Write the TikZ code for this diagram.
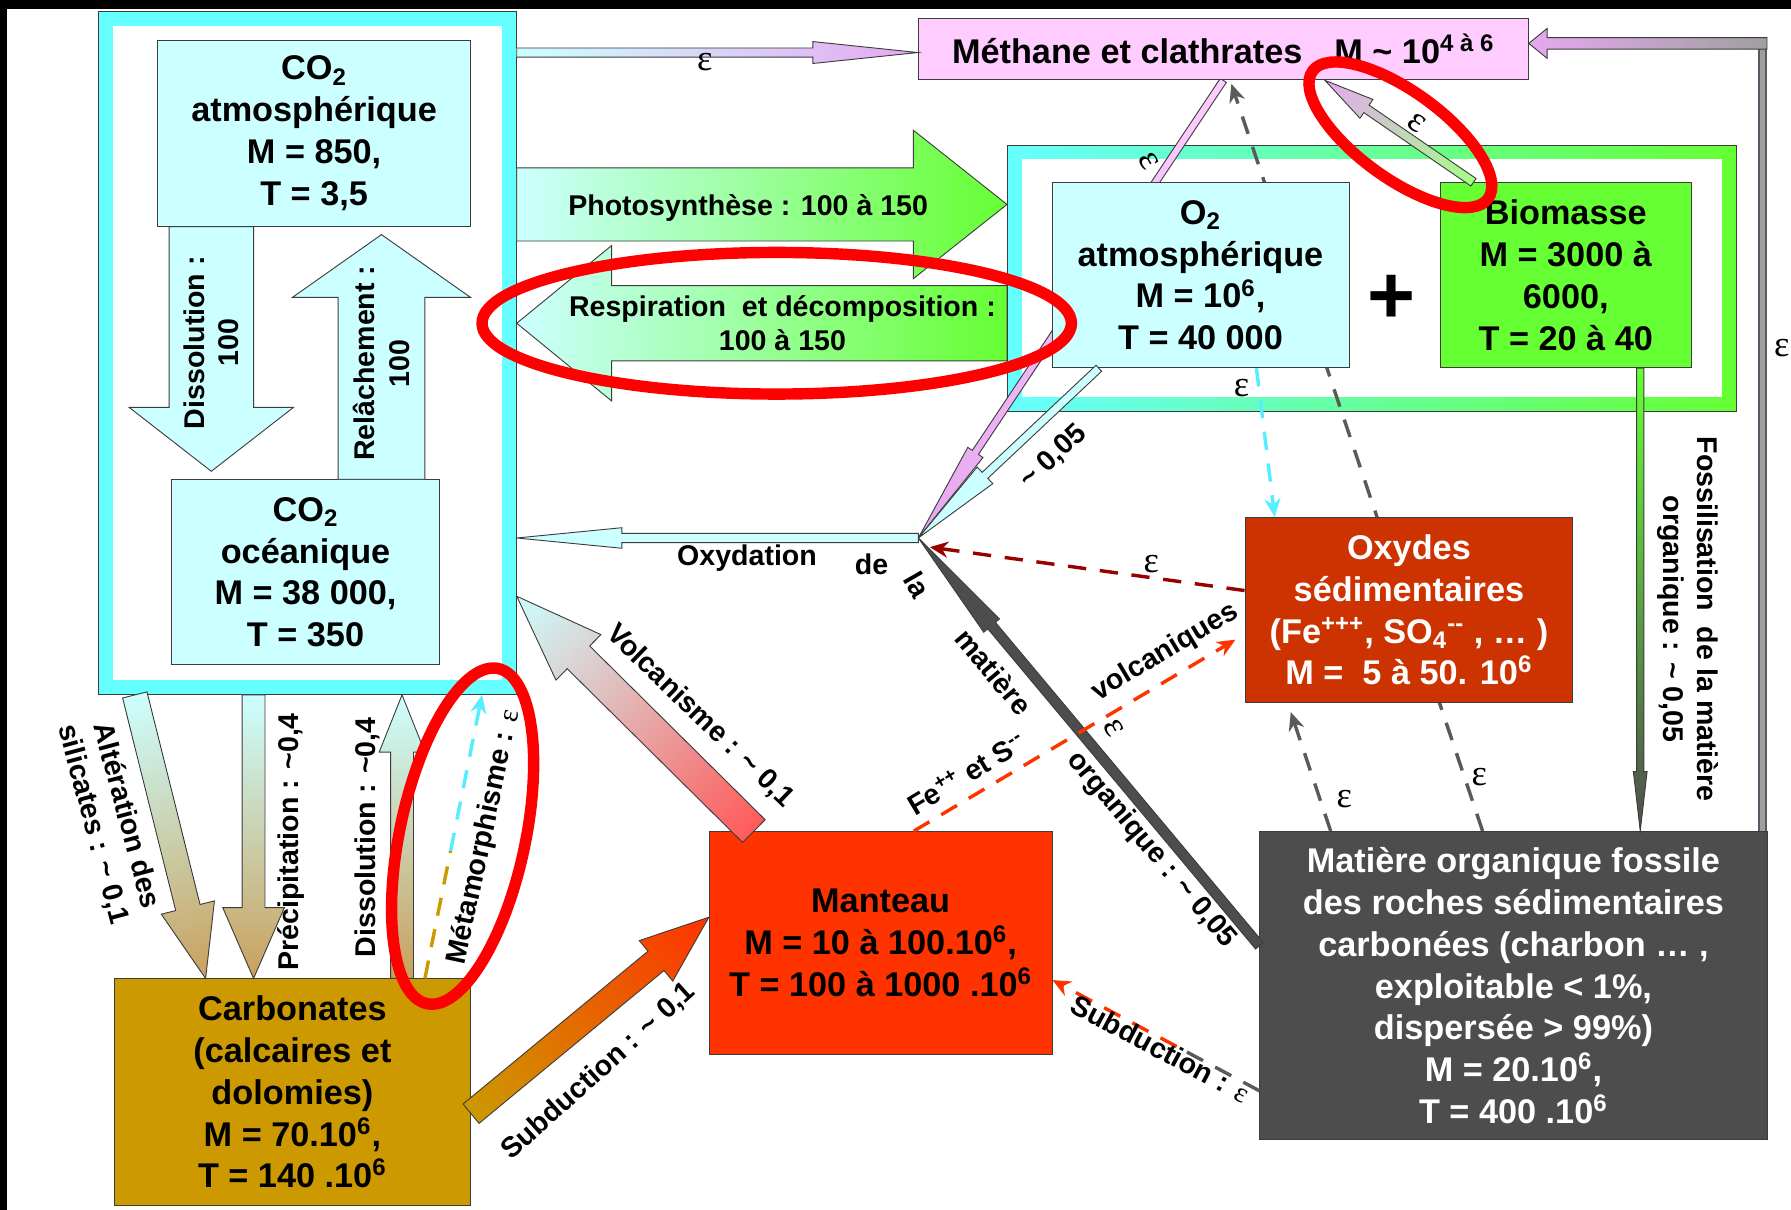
\documentclass[tikz,border=0pt]{standalone}
\usepackage{fontspec}
\setmainfont{Liberation Sans}
\newfontfamily\epsfont{Liberation Serif}
\usepackage{tikz}
\usetikzlibrary{positioning, calc, arrows.meta}
\pgfdeclarelayer{back}
\pgfdeclarelayer{mid}
\pgfsetlayers{back,mid,main}

\definecolor{cyanband}{HTML}{66FFFF}
\definecolor{paleblue}{HTML}{CCFFFF}
\definecolor{methpink}{HTML}{FFCCFF}
\definecolor{arrowpink}{HTML}{E6A8F0}
\definecolor{biogreen}{HTML}{66FF33}
\definecolor{carbgold}{HTML}{CC9900}
\definecolor{mantred}{HTML}{FF3300}
\definecolor{oxydred}{HTML}{CC3300}
\definecolor{fossgray}{HTML}{4D4D4D}
\definecolor{sandtan}{HTML}{C9A05C}
\definecolor{volcred}{HTML}{FF5A5A}
\definecolor{darkred}{HTML}{990000}
\definecolor{dashcyan}{HTML}{55EEFF}
\definecolor{dashgray}{HTML}{5A5A5A}
\definecolor{markred}{HTML}{FF0000}
\definecolor{edge}{HTML}{3C3C3C}
\definecolor{loopgray}{HTML}{7A8290}

\newcommand{\epsl}{{\epsfont\mdseries ε}}

% shaded block arrow from one named coordinate to another
% #1 colours, #2 tail, #3 tip, #4 shaft half width, #5 head half width, #6 head length
\newcommand{\fatarrow}[6]{%
  \pgfpointdiff{\pgfpointanchor{#2}{center}}{\pgfpointanchor{#3}{center}}%
  \pgfgetlastxy{\fax}{\fay}%
  \pgfmathsetmacro{\falen}{veclen(\fax,\fay)}%
  \pgfmathsetmacro{\faang}{atan2(\fay,\fax)}%
  \begin{scope}[transform canvas={shift={(#2)}, rotate=\faang}]
    \shade[draw=edge, thin, #1] (0pt,-#4) -- (\falen pt-#6,-#4) -- (\falen pt-#6,-#5)
      -- (\falen pt,0pt) -- (\falen pt-#6,#5) -- (\falen pt-#6,#4) -- (0pt,#4) -- cycle;
  \end{scope}}

\begin{document}
\begin{tikzpicture}[
  x=0.5pt, y=-0.5pt,
  box/.style={rectangle, draw=edge, thin, align=center, inner sep=0pt,
              font=\fontsize{15}{18.3}\selectfont\bfseries},
  grp/.style={rectangle, draw=edge, thin, inner sep=0pt},
  lbl/.style={align=center, inner sep=1pt, font=\fontsize{12.5}{15}\selectfont\bfseries},
  epsn/.style={inner sep=1pt, font=\fontsize{16}{16}\selectfont},
  dasharr/.style={line width=1.5pt, dash pattern=on 8pt off 6pt, -{Stealth[length=8pt, width=7pt]}},
  dashseg/.style={line width=1.5pt, dash pattern=on 8pt off 6pt},
  markring/.style={draw=markred, line width=5pt}
]
  \useasboundingbox (0,0) rectangle (1568,1059);

  % frames of the two reservoir groups
  \begin{pgfonlayer}{back}
    \fill[black] (0,0) rectangle (1568,1059);
    \fill[white] (6,8) rectangle (1568,1059);
    \node[grp, fill=cyanband, minimum width=183pt, minimum height=299pt] (co2grp) at (269,309) {};
    \fill[white] ($(co2grp.north west)+(13,13)$) rectangle ($(co2grp.south east)+(-13,-13)$);
    \node[grp, left color=cyanband, right color=biogreen, minimum width=319pt, minimum height=116.5pt] (o2grp) at (1201,243.5) {};
    \fill[white] ($(o2grp.north west)+(13,13)$) rectangle ($(o2grp.south east)+(-13,-13)$);
  \end{pgfonlayer}

  % reservoirs
  \node[box, fill=paleblue, minimum width=137pt, minimum height=81.5pt] (co2atm) at (275,116.5)
    {CO\textsubscript{2}\\atmosphérique\\M = 850,\\T = 3,5};
  \node[box, fill=paleblue, minimum width=117.5pt, minimum height=81pt] (co2oce) at (267.5,501)
    {CO\textsubscript{2}\\océanique\\M = 38 000,\\T = 350};
  \node[box, fill=methpink, minimum width=267pt, minimum height=27pt] (meth) at (1071,43)
    {Méthane et clathrates\hspace{14pt}M \textasciitilde{} 10\textsuperscript{4 à 6}};
  \node[box, fill=paleblue, minimum width=130pt, minimum height=81pt] (o2) at (1051,241)
    {O\textsubscript{2}\\atmosphérique\\M = 10\textsuperscript{6},\\T = 40 000};
  \node[box, fill=biogreen, minimum width=110pt, minimum height=81pt, right=39.5pt of o2] (bio)
    {Biomasse\\M = 3000 à\\6000,\\T = 20 à 40};
  \node[inner sep=0pt, font=\fontsize{36}{36}\selectfont\bfseries] (plus)
    at ($(o2.east)!0.5!(bio.west)+(-3,21)$) {+};
  \node[box, fill=carbgold, minimum width=156pt, minimum height=99pt] (carb) at (256,956)
    {Carbonates\\(calcaires et\\dolomies)\\M = 70.10\textsuperscript{6},\\T = 140 .10\textsuperscript{6}};
  \node[box, fill=mantred, minimum width=150pt, minimum height=97.5pt] (mant) at (771,825.5)
    {Manteau\\M = 10 à 100.10\textsuperscript{6},\\T = 100 à 1000 .10\textsuperscript{6}};
  \node[box, fill=oxydred, text=white, minimum width=143.5pt, minimum height=81pt] (oxyd) at (1233.5,534)
    {Oxydes\\sédimentaires\\(Fe\textsuperscript{+++}, SO\textsubscript{4}\textsuperscript{-{}-} , \dots\ )\\M =\ \ 5 à 50. 10\textsuperscript{6}};
  \node[box, fill=fossgray, text=white, minimum width=222pt, minimum height=135pt] (fossil) at (1325,863)
    {Matière organique fossile\\des roches sédimentaires\\carbonées (charbon \dots\ ,\\exploitable < 1\%,\\dispersée > 99\%)\\M = 20.10\textsuperscript{6},\\T = 400 .10\textsuperscript{6}};

  % end points of the fluxes
  \coordinate (oxpt) at (804,471);
  \coordinate (disT) at (co2atm.south -| 185,0);
  \coordinate (disH) at ($(co2oce.north -| 185,0)+(0,-7)$);
  \coordinate (relT) at (co2oce.north -| 334,0);
  \coordinate (relH) at ($(co2atm.south -| 334,0)+(0,7)$);
  \coordinate (phoT) at (co2grp.east |- 0,179);
  \coordinate (phoH) at (o2grp.west |- 0,179);
  \coordinate (resT) at (o2grp.west |- 0,283);
  \coordinate (resH) at (co2grp.east |- 0,283);
  \coordinate (epsT) at (co2grp.east |- 0,46);
  \coordinate (epsH) at (meth.west |- 0,46);
  \coordinate (bioT) at (bio.north -| 1290,0);
  \coordinate (bioH) at (meth.south -| 1160,0);
  \coordinate (mthT) at (meth.south -| 1071,0);
  \coordinate (o2oT) at (o2.south -| 962,0);
  \coordinate (oxcH) at (co2grp.east |- oxpt);
  \coordinate (fosT) at (fossil.west |- 0,828);
  \coordinate (volT) at (mant.north -| 660,0);
  \coordinate (volH) at (co2grp.east |- 0,522);
  \coordinate (subT) at (carb.east |- 0,975);
  \coordinate (subH) at (mant.west |- 0,803);
  \coordinate (altT) at (co2grp.south -| 118,0);
  \coordinate (altH) at (carb.north -| 180,0);
  \coordinate (preT) at (co2grp.south -| 222,0);
  \coordinate (preH) at (carb.north -| 222,0);
  \coordinate (di2T) at (carb.north -| 352,0);
  \coordinate (di2H) at (co2grp.south -| 352,0);
  \coordinate (metT) at (carb.north -| 372,0);
  \coordinate (metH) at (co2grp.south -| 422,0);
  \coordinate (metM) at ($(metT)!0.45!(metH)$);
  \coordinate (feT) at (mant.north -| 800,0);
  \coordinate (feH) at ($(oxyd.west |- 0,560)+(-8,0)$);
  \coordinate (oxdT) at (oxyd.west |- 0,517);
  \coordinate (oxdH) at ($(oxpt)+(10,8)$);
  \coordinate (o2xT) at (o2.south -| 1100,0);
  \coordinate (o2xH) at (oxyd.north -| 1116,0);
  \coordinate (fxT) at (fossil.north -| 1165,0);
  \coordinate (fxH) at ($(oxyd.south -| 1130,0)+(0,8)$);
  \coordinate (fmT) at (fossil.north -| 1298,0);
  \coordinate (fmH) at ($(meth.south -| 1078,0)+(0,3)$);
  \coordinate (fslT) at (bio.south -| 1436,0);
  \coordinate (fslH) at (fossil.north -| 1436,0);
  \coordinate (lpT) at (fossil.north -| 1543,0);
  \coordinate (lpC) at (1543,38);
  \coordinate (lpK) at ($(lpC)+(4,0)$);
  \coordinate (lpH) at (meth.east |- lpC);
  \coordinate (sbeT) at (fossil.west |- 0,955);
  \coordinate (sbeH) at (mant.east |- 0,858);
  \coordinate (sbeM) at ($(sbeT)!0.4!(sbeH)$);

  % fluxes passing behind the boxes
  \begin{pgfonlayer}{mid}
    \fatarrow{left color=methpink, right color=arrowpink}{mthT}{oxpt}{1.6pt}{4pt}{45pt}
    \draw[dasharr, draw=dashgray] (fmT) -- (fmH);
  \end{pgfonlayer}

  % CO2 exchanges
  \fatarrow{left color=paleblue, right color=paleblue}{disT}{disH}{18.5pt}{36pt}{28pt}
  \fatarrow{left color=paleblue, right color=paleblue}{relT}{relH}{19pt}{39pt}{27.5pt}
  \fatarrow{left color=paleblue, right color=biogreen}{phoT}{phoH}{16pt}{32.5pt}{41pt}
  \fatarrow{left color=biogreen, right color=paleblue}{resT}{resH}{16.5pt}{34pt}{41.5pt}
  \fatarrow{left color=paleblue, right color=arrowpink}{epsT}{epsH}{2pt}{4.8pt}{46pt}
  \fatarrow{left color=biogreen!60, right color=arrowpink}{bioT}{bioH}{2pt}{5pt}{22pt}
  \fatarrow{left color=paleblue, right color=paleblue}{o2oT}{oxpt}{1.8pt}{5pt}{40pt}
  \fatarrow{left color=paleblue, right color=paleblue}{oxpt}{oxcH}{2pt}{4.5pt}{46pt}
  \fatarrow{left color=fossgray, right color=fossgray}{fosT}{oxpt}{2.2pt}{4.5pt}{50pt}
  \fatarrow{left color=volcred, right color=paleblue}{volT}{volH}{7pt}{14pt}{38pt}
  \fatarrow{left color=carbgold, right color=mantred}{subT}{subH}{5.5pt}{11.5pt}{30pt}
  \fatarrow{left color=paleblue, right color=sandtan}{altT}{altH}{5.5pt}{12pt}{32pt}
  \fatarrow{left color=paleblue, right color=sandtan}{preT}{preH}{5pt}{13.5pt}{31pt}
  \fatarrow{left color=sandtan, right color=paleblue}{di2T}{di2H}{5pt}{10pt}{25pt}
  \fatarrow{left color=biogreen, right color=fossgray}{fslT}{fslH}{1.6pt}{3pt}{26pt}
  \draw[draw=loopgray!70!black, double=gray!75, double distance=2.4pt, line width=0.8pt]
    (lpT) -- ($(lpC)+(0,-5)$);
  \fatarrow{left color=gray!75, right color=arrowpink}{lpK}{lpH}{2.5pt}{6.5pt}{8pt}

  % dashed fluxes
  \draw[dashseg, draw=carbgold] (metT) -- (metM);
  \draw[dasharr, draw=dashcyan] (metM) -- (metH);
  \draw[dasharr, draw=mantred] (feT) -- (feH);
  \draw[dasharr, draw=darkred] (oxdT) -- (oxdH);
  \draw[dasharr, draw=dashcyan] (o2xT) -- (o2xH);
  \draw[dasharr, draw=dashgray] (fxT) -- (fxH);
  \draw[dashseg, draw=dashgray] (sbeT) -- (sbeM);
  \draw[dasharr, draw=mantred] (sbeM) -- (sbeH);

  % flux labels
  \node[lbl, rotate=90] (disL) at (185,300) {Dissolution :\\100};
  \node[lbl, rotate=90] (relL) at (334,318) {Relâchement :\\100};
  \node[lbl] (phoL) at (655,182) {Photosynthèse : 100 à 150};
  \node[lbl] (resL) at (685,283) {Respiration\ \ et décomposition :\\100 à 150};
  \node[epsn] (epsL) at (617,54) {\epsl};
  \node[epsn, rotate=-35] (bioL) at (1240,108) {\epsl};
  \node[epsn, rotate=-60] (mthL) at (1006,141) {\epsl};
  \node[lbl, rotate=43] (o2oL) at (922,400) {\textasciitilde{} 0,05};
  \node[epsn] (o2xL) at (1087,340) {\epsl};
  \node[lbl] (oxy1) at (654,489) {Oxydation};
  \node[lbl] (oxy2) at (763,494) {de};
  \node[lbl, rotate=-60] (oxy3) at (803,512) {la};
  \node[lbl, rotate=-50] (oxy4) at (870,588) {matière};
  \node[lbl, rotate=-50] (oxy5) at (1008,744) {organique : \textasciitilde{} 0,05};
  \node[epsn] (oxdL) at (1008,494) {\epsl};
  \node[lbl, rotate=31] (feL) at (846,677) {Fe\textsuperscript{++} et S\textsuperscript{-{}-}};
  \node[lbl, rotate=31] (vqL) at (1020,571) {volcaniques};
  \node[epsn, rotate=-60] (feE) at (975,637) {\epsl};
  \node[epsn] (fxL) at (1177,700) {\epsl};
  \node[epsn] (fmL) at (1295,680) {\epsl};
  \node[lbl, rotate=-90] (fslL) at (1478,542) {Fossilisation\ \ de la matière\\organique : \textasciitilde{} 0,05};
  \node[epsn] (lpL) at (1560,305) {\epsl};
  \node[lbl, rotate=-44] (volL) at (613,627) {Volcanisme : \textasciitilde{} 0,1};
  \node[lbl, rotate=42] (subL) at (524,938) {Subduction : \textasciitilde{} 0,1};
  \node[lbl, rotate=-28] (sbeL) at (1016,918) {Subduction : \epsl};
  \node[lbl, rotate=-75] (altL) at (96,718) {Altération des\\silicates : \textasciitilde{} 0,1};
  \node[lbl, rotate=90] (preL) at (255,737) {Précipitation : \textasciitilde0,4};
  \node[lbl, rotate=90] (di2L) at (322,733) {Dissolution : \textasciitilde0,4};
  \node[lbl, rotate=78] (metL) at (424,733) {Métamorphisme : \epsl};

  % red highlight rings
  \draw[markring] (680,283) ellipse [x radius=258, y radius=62];
  \draw[markring, rotate around={-36:(1226,118)}] (1226,118) ellipse [x radius=95, y radius=38];
  \draw[markring, rotate around={78:(405,732)}] (405,732) ellipse [x radius=150, y radius=55];
\end{tikzpicture}
\end{document}
